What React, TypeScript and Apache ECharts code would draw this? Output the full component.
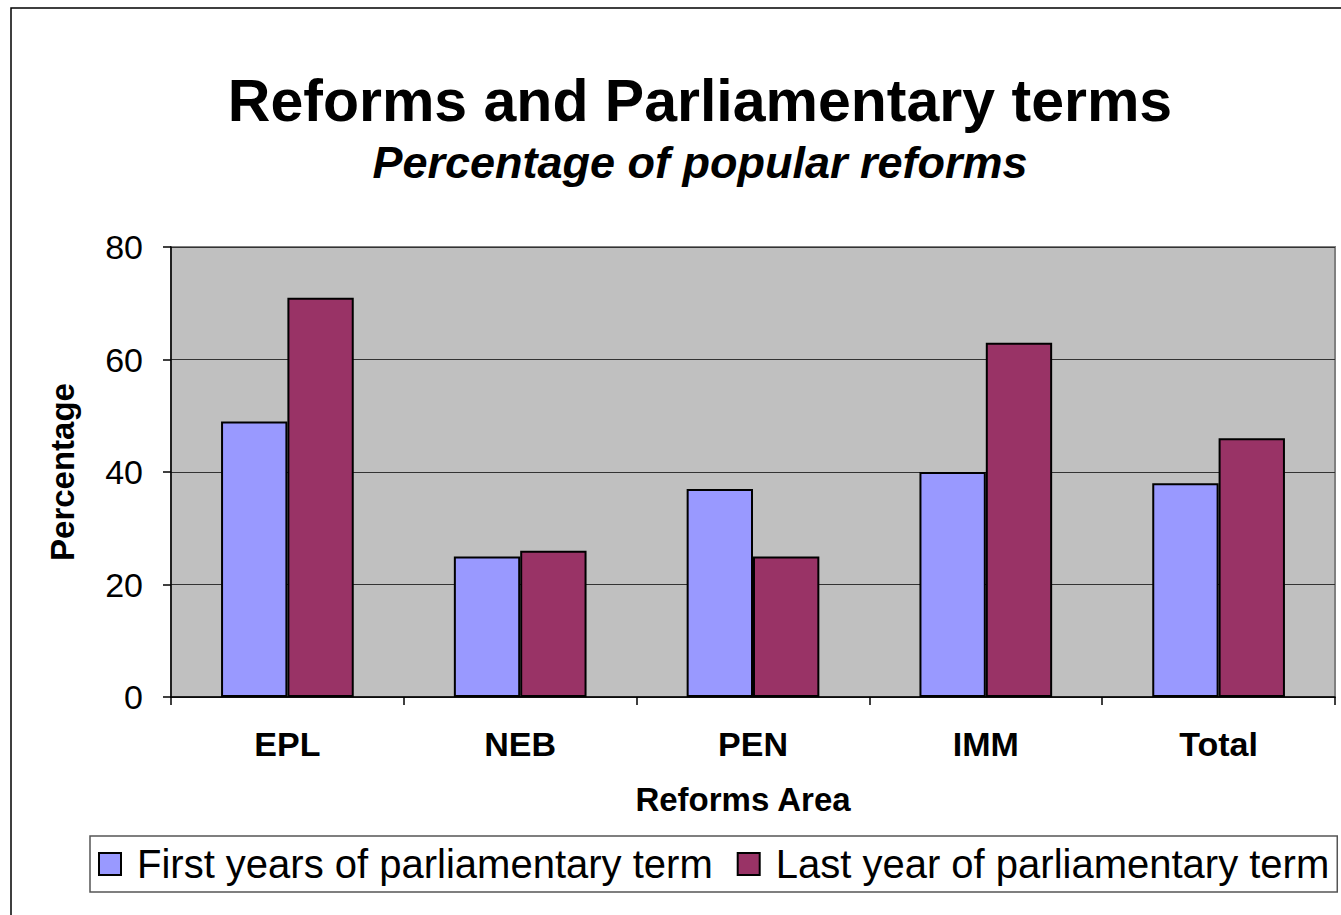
import React, { useEffect, useRef } from "react";
import * as echarts from "echarts";

const categories = ["EPL", "NEB", "PEN", "IMM", "Total"];
const firstYears = [49, 25, 37, 40, 38];
const lastYear = [71, 26, 25, 63, 46];
const seriesNames = ["First years of parliamentary term", "Last year of parliamentary term"];
const yTicks = { min: 0, max: 80, interval: 20 };

export default function App() {
  const ref = useRef<HTMLDivElement>(null);
  useEffect(() => {
    if (!ref.current) return;
    const chart = echarts.init(ref.current, null, { renderer: "svg" });
    const font = "Liberation Sans, Arial, sans-serif";
    chart.setOption({
      animation: false,
      backgroundColor: "#ffffff",
      textStyle: { fontFamily: font },
      title: [
        {
          text: "Reforms and Parliamentary terms",
          left: 695,
          top: 66,
          textAlign: "center",
          textStyle: { fontFamily: font, fontSize: 59, fontWeight: "bold", color: "#000" },
        },
        {
          text: "Percentage of popular reforms",
          left: 695,
          top: 135,
          textAlign: "center",
          textStyle: { fontFamily: font, fontSize: 45, fontWeight: "bold", fontStyle: "italic", color: "#000" },
        },
      ],
      graphic: [
        {
          type: "rect",
          shape: { x: 11, y: 8, width: 1400, height: 1000 },
          style: { fill: "none", stroke: "#000", lineWidth: 1.5 },
          silent: true,
        },
      ],
      legend: {
        left: 90,
        top: 836,
        orient: "horizontal",
        icon: "rect",
        itemWidth: 22,
        itemHeight: 22,
        itemGap: 24,
        padding: [8, 8, 8, 8],
        borderColor: "#555",
        borderWidth: 1.5,
        backgroundColor: "#fff",
        textStyle: { fontFamily: font, fontSize: 40, color: "#000", padding: [0, 0, 0, 11] },
        data: seriesNames,
      },
      grid: {
        left: 171,
        top: 247,
        right: 6,
        bottom: 218,
        show: true,
        backgroundColor: "#c0c0c0",
        borderColor: "#808080",
        borderWidth: 2,
        containLabel: false,
      },
      xAxis: {
        type: "category",
        data: categories,
        boundaryGap: true,
        name: "Reforms Area",
        nameLocation: "middle",
        nameGap: 86,
        nameTextStyle: { fontFamily: font, fontSize: 33, fontWeight: "bold", color: "#000", padding: [0, 20, 0, 0] },
        axisLine: { lineStyle: { color: "#000", width: 1.5 } },
        axisTick: { show: true, length: 8, inside: false, alignWithLabel: false, lineStyle: { color: "#000", width: 1.5 } },
        axisLabel: { margin: 30, fontFamily: font, fontSize: 34, fontWeight: "bold", color: "#000" },
      },
      yAxis: {
        type: "value",
        min: yTicks.min,
        max: yTicks.max,
        interval: yTicks.interval,
        name: "Percentage",
        nameLocation: "middle",
        nameGap: 92,
        nameRotate: 90,
        nameTextStyle: { fontFamily: font, fontSize: 33, fontWeight: "bold", color: "#000" },
        axisLine: { show: true, lineStyle: { color: "#000", width: 1.5 } },
        axisTick: { show: true, length: 8, inside: false, lineStyle: { color: "#000", width: 1.5 } },
        axisLabel: { margin: 28, fontFamily: font, fontSize: 34, color: "#000" },
        splitLine: { show: true, lineStyle: { color: "#333", width: 1 } },
      },
      series: [
        {
          name: seriesNames[0],
          type: "bar",
          data: firstYears,
          barGap: "0%",
          barCategoryGap: "43%",
          itemStyle: { color: "#9999ff", borderColor: "#000", borderWidth: 2 },
        },
        {
          name: seriesNames[1],
          type: "bar",
          data: lastYear,
          barGap: "0%",
          barCategoryGap: "43%",
          itemStyle: { color: "#993366", borderColor: "#000", borderWidth: 2 },
        },
      ],
    });
    return () => chart.dispose();
  }, []);
  return (
    <div
      ref={ref}
      style={{ position: "fixed", left: 0, top: 0, width: 1341, height: 915 }}
    />
  );
}
